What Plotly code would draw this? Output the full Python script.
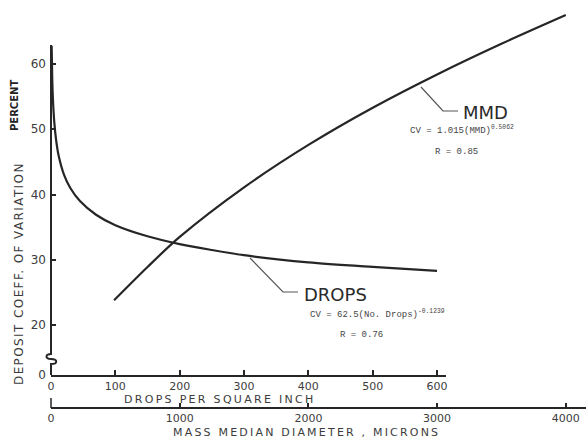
import plotly.graph_objects as go

# ---- data ----
drops = [1, 2, 3, 5, 8, 12, 20, 30, 45, 70, 100, 150, 200, 250, 300, 400, 500, 600]
cv_drops = [62.8, 57.4, 54.6, 51.2, 48.3, 45.9, 43.1, 41.0, 39.0, 36.9, 35.3, 33.6, 32.4, 31.5, 30.7, 29.6, 28.9, 28.3]

mmd = [490, 750, 1000, 1500, 2000, 2500, 3000, 3500, 4000]
cv_mmd = [23.8, 28.9, 33.5, 41.1, 47.6, 53.3, 58.4, 63.1, 67.5]

y_ticks = [20, 30, 40, 50, 60]
drops_ticks = [0, 100, 200, 300, 400, 500, 600]
mmd_ticks = [0, 1000, 2000, 3000, 4000]

# ---- layout geometry (pixels) ----
W, H = 586, 440
L, R, T, B = 51, 0, 0, 32
PW, PH = W - L - R, H - T - B


def px(x):
    return (x - L) / PW


def py(y):
    return (T + PH - y) / PH


Y_BOTTOM = 12.34   # value shown as the broken-axis "0"
Y_TOP = 69.81

LINE = "#262626"
TXT = "#3c3c3c"
FONT = "DejaVu Sans"
EQ_FONT = "Liberation Mono"

fig = go.Figure()
fig.add_trace(go.Scatter(x=drops, y=cv_drops, mode="lines", xaxis="x", yaxis="y",
                         line=dict(color=LINE, width=2.2, shape="spline", smoothing=0.8),
                         hoverinfo="skip", showlegend=False))
fig.add_trace(go.Scatter(x=mmd, y=cv_mmd, mode="lines", xaxis="x2", yaxis="y",
                         line=dict(color=LINE, width=2.2, shape="spline", smoothing=0.8),
                         hoverinfo="skip", showlegend=False))

tickfont = dict(family=FONT, size=11, color=TXT)

fig.update_layout(
    width=W, height=H,
    margin=dict(l=L, r=R, t=T, b=B, pad=0, autoexpand=False),
    paper_bgcolor="white", plot_bgcolor="rgba(0,0,0,0)",
    showlegend=False,
    xaxis=dict(domain=[0, px(446)], range=[0, (446 - L) / 0.6433], anchor="y",
               showgrid=False, zeroline=False, showline=True, linecolor=LINE, linewidth=2,
               ticks="inside", ticklen=5, tickwidth=1.5, tickcolor=LINE,
               tickvals=drops_ticks, ticktext=[str(v) for v in drops_ticks],
               tickfont=tickfont, fixedrange=True, automargin=False),
    xaxis2=dict(domain=[0, 1], range=[0, PW / 0.1287], anchor="free", position=0,
                showgrid=False, zeroline=False, showline=True, linecolor=LINE, linewidth=2,
                ticks="inside", ticklen=4, tickwidth=1.5, tickcolor=LINE,
                tickvals=mmd_ticks, ticktext=[str(v) for v in mmd_ticks],
                tickfont=tickfont, fixedrange=True, automargin=False),
    yaxis=dict(domain=[py(375), 1], range=[Y_BOTTOM, Y_TOP], anchor="x",
               showgrid=False, zeroline=False, showline=False,
               ticks="inside", ticklen=5, tickwidth=1.5, tickcolor=LINE,
               tickvals=[Y_BOTTOM] + y_ticks, ticktext=["0"] + [str(v) for v in y_ticks],
               tickfont=dict(family=FONT, size=12, color=TXT), ticklabelstandoff=4,
               fixedrange=True, automargin=False),
)


def pt(x, y):
    return f"{px(x):.5f},{py(y):.5f}"


shapes = []
# y axis line with break squiggle
path = (f"M {pt(51,375)} L {pt(51,364)} C {pt(58,364)} {pt(58,359)} {pt(51,359)} "
        f"C {pt(45,359)} {pt(45,354)} {pt(51,354)} L {pt(51,45)}")
shapes.append(dict(type="path", xref="paper", yref="paper", path=path,
                   line=dict(color=LINE, width=2)))
# MMD axis left end tick
shapes.append(dict(type="line", xref="paper", yref="paper",
                   x0=px(51), y0=py(408), x1=px(51), y1=py(398),
                   line=dict(color=LINE, width=1.5)))
# leader lines
shapes.append(dict(type="path", xref="paper", yref="paper",
                   path=f"M {pt(421,87)} L {pt(443,111)} L {pt(458,111)}",
                   line=dict(color="#555", width=1.2)))
shapes.append(dict(type="path", xref="paper", yref="paper",
                   path=f"M {pt(250,258)} L {pt(283,292)} L {pt(298,292)}",
                   line=dict(color="#555", width=1.2)))
fig.update_layout(shapes=shapes)


def ann(text, x, y, size, xanchor="center", family=FONT, color=TXT, angle=0):
    return dict(text=text, x=px(x), y=py(y), xref="paper", yref="paper",
                xanchor=xanchor, yanchor="middle", showarrow=False, textangle=angle,
                font=dict(family=family, size=size, color=color))


def spaced(t, sp):
    return f"<span style='letter-spacing:{sp}px'>{t}</span>"


anns = [
    ann("MMD", 461, 112, 18, "left", color="#2a2a2a"),
    ann("CV = 1.015(MMD)<sup>0.5062</sup>", 408, 130, 9, "left", family=EQ_FONT, color="#444"),
    ann("R = 0.85", 433, 152, 9, "left", family=EQ_FONT, color="#444"),
    ann("DROPS", 302, 294, 18, "left", color="#2a2a2a"),
    ann("CV = 62.5(No. Drops)<sup>-0.1239</sup>", 308, 314, 9, "left", family=EQ_FONT, color="#444"),
    ann("R = 0.76", 338, 335, 9, "left", family=EQ_FONT, color="#444"),
    ann(spaced("DROPS PER SQUARE INCH", 2.3), 220, 399, 11),
    ann(spaced("MASS MEDIAN DIAMETER , MICRONS", 2.2), 306, 432, 11),
    ann(spaced("DEPOSIT COEFF. OF VARIATION", 1.4), 19, 274, 12, angle=-90),
    ann("<b>PERCENT</b>", 15, 106, 10, angle=-90, color="#222"),
]
fig.update_layout(annotations=anns)

fig.write_html("out.html", config={"displayModeBar": False},
               post_script="document.body.style.margin='0';document.body.style.padding='0';")
